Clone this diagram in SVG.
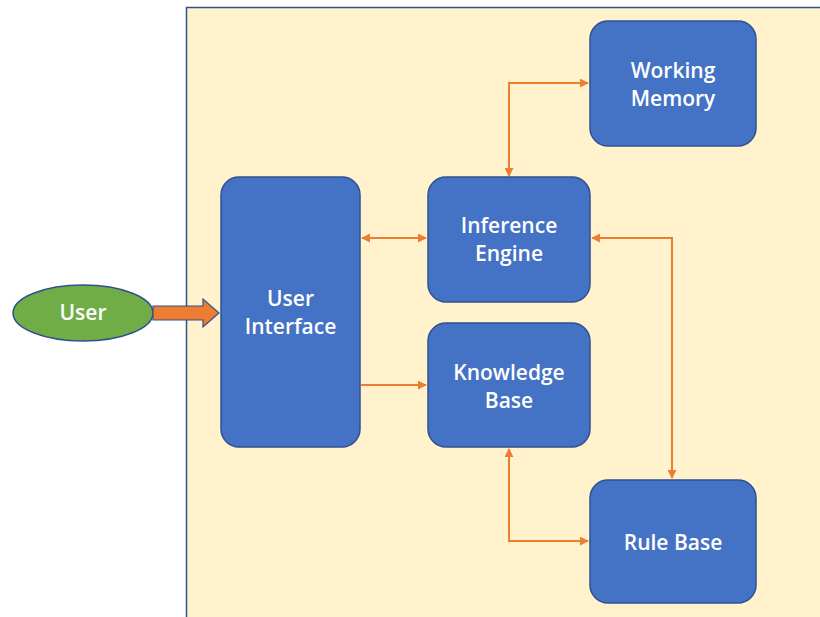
<svg xmlns="http://www.w3.org/2000/svg" width="820" height="617" viewBox="0 0 820 617">
  <defs>
    <marker id="ah" viewBox="0 0 10 10" refX="9" refY="5" markerWidth="9" markerHeight="9" markerUnits="userSpaceOnUse" orient="auto-start-reverse">
      <path d="M0,0 L10,5 L0,10 z" fill="#ED7D31"/>
    </marker>
    <style>
      .node { fill: #4472C4; stroke: #2F528F; stroke-width: 1.5; }
      .lbl { fill: #ffffff; font-family: "Open Sans", "Liberation Sans", sans-serif; font-size: 21px; font-weight: 600; text-anchor: middle; }
      .conn { fill: none; stroke: #ED7D31; stroke-width: 2; }
    </style>
  </defs>

  <rect x="0" y="0" width="820" height="617" fill="#ffffff"/>
  <!-- system boundary -->
  <rect x="186.5" y="7.5" width="640" height="620" fill="#FFF2CC" stroke="#2F528F" stroke-width="1.5"/>

  <g id="connectors">
    <polyline class="conn" points="509,176 509,83 588,83" marker-start="url(#ah)" marker-end="url(#ah)"/>
    <line class="conn" x1="362" y1="238" x2="426" y2="238" marker-start="url(#ah)" marker-end="url(#ah)"/>
    <polyline class="conn" points="592,238 672,238 672,478" marker-start="url(#ah)" marker-end="url(#ah)"/>
    <line class="conn" x1="361" y1="385" x2="426" y2="385" marker-end="url(#ah)"/>
    <polyline class="conn" points="509,449 509,541 588,541" marker-start="url(#ah)" marker-end="url(#ah)"/>
  </g>

  <g id="user">
    <ellipse cx="83" cy="313" rx="70" ry="28" fill="#70AD47" stroke="#2F528F" stroke-width="1.5"/>
    <text class="lbl" x="83" y="320">User</text>
  </g>

  <g id="user-arrow">
    <path d="M153,306 L203,306 L203,299 L219,313 L203,327 L203,320 L153,320 Z" fill="#ED7D31" stroke="#2F528F" stroke-width="1.2"/>
  </g>

  <g id="user-interface">
    <rect class="node" x="221" y="177" width="139" height="270" rx="18"/>
    <text class="lbl" x="290.5" y="306">User</text>
    <text class="lbl" x="290.5" y="334">Interface</text>
  </g>

  <g id="working-memory">
    <rect class="node" x="590" y="21" width="166" height="125" rx="18"/>
    <text class="lbl" x="673" y="78">Working</text>
    <text class="lbl" x="673" y="106">Memory</text>
  </g>

  <g id="inference-engine">
    <rect class="node" x="428" y="177" width="162" height="125" rx="18"/>
    <text class="lbl" x="509" y="233">Inference</text>
    <text class="lbl" x="509" y="261">Engine</text>
  </g>

  <g id="knowledge-base">
    <rect class="node" x="428" y="323" width="162" height="124" rx="18"/>
    <text class="lbl" x="509" y="380">Knowledge</text>
    <text class="lbl" x="509" y="408">Base</text>
  </g>

  <g id="rule-base">
    <rect class="node" x="590" y="480" width="166" height="123" rx="18"/>
    <text class="lbl" x="673" y="550">Rule Base</text>
  </g>
</svg>
